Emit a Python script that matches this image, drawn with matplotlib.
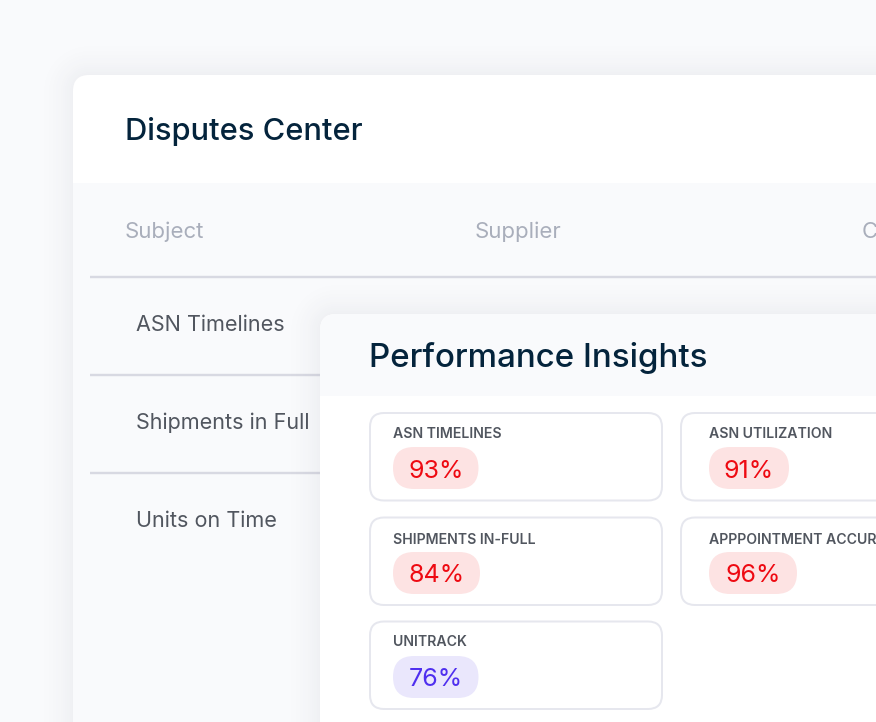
import matplotlib
matplotlib.use("Agg")
import numpy as np
import matplotlib.pyplot as plt
from matplotlib.patches import FancyBboxPatch, Rectangle

FONT = ["Inter", "Open Sans", "DejaVu Sans"]
plt.rcParams["font.family"] = FONT

W, H = 876, 722
PT = 72 / 100

# ---- content ----
main_title = "Disputes Center"
panel_title = "Performance Insights"
table_headers = ["Subject", "Supplier", "C"]
table_rows = ["ASN Timelines", "Shipments in Full", "Units on Time"]
metric_names = ["ASN TIMELINES", "ASN UTILIZATION", "SHIPMENTS IN-FULL",
                "APPPOINTMENT ACCURACY", "UNITRACK"]
metric_values = [93, 91, 84, 96, 76]
metric_kinds = ["bad", "bad", "bad", "bad", "info"]

# ---- styles ----
BG = "#F9FAFC"
INK = "#04243C"
GREY = "#A9AEBB"
TXT = "#51565F"
LINE = "#D8D9E2"
STROKE = "#E6E7EE"
PILL = {"bad": ("#FDE3E3", "#EE0A12"), "info": ("#EAE7FC", "#4F2FEF")}

fig = plt.figure(figsize=(W / 100, H / 100), dpi=100, facecolor=BG)
ax = fig.add_axes([0, 0, 1, 1])
ax.set_xlim(0, W)
ax.set_ylim(H, 0)
ax.axis("off")


def rrect(x0, y0, x1, y1, r, fc="none", ec="none", lw=0, z=1, alpha=None):
    p = FancyBboxPatch((x0 + r, y0 + r), x1 - x0 - 2 * r, y1 - y0 - 2 * r,
                       boxstyle=f"round,pad={r},rounding_size={r}",
                       fc=fc, ec=ec, lw=lw * PT, zorder=z, alpha=alpha,
                       mutation_aspect=1)
    ax.add_patch(p)
    return p


def shadow(x0, y0, x1, y1, r, z, spread=42, peak=0.05, dy=0):
    # one soft halo composited once, so faint tones survive 8-bit rounding
    yy, xx = np.mgrid[0:H, 0:W] + 0.5
    qx = np.maximum(np.maximum(x0 + r - xx, xx - (x1 - r)), 0)
    qy = np.maximum(np.maximum(y0 + dy + r - yy, yy - (y1 - r)), 0)
    dist = np.maximum(np.hypot(qx, qy) - r, 0)
    fall = np.clip(1 - dist / spread, 0, 1) ** 2.2
    img = np.zeros((H, W, 4))
    img[..., :3] = np.array([0x30, 0x34, 0x4A]) / 255
    img[..., 3] = peak * fall
    ax.imshow(img, extent=(0, W, H, 0), zorder=z, interpolation="nearest", aspect="auto")
    ax.set_xlim(0, W)
    ax.set_ylim(H, 0)


def label(x, y, s, size, color, weight="normal", z=10, ha="left"):
    ax.text(x, y, s, fontsize=size * PT, color=color, fontweight=weight,
            va="center_baseline", ha=ha, zorder=z)


# Outer card
CX0, CY0, CX1, CY1 = 73, 75, 960, 820
shadow(CX0, CY0, CX1, CY1, 16, 1)
rrect(CX0, CY0, CX1, CY1, 16, fc="#FFFFFF", z=2)
ax.add_patch(Rectangle((CX0, 183), CX1 - CX0, CY1 - 183, fc=BG, ec="none", zorder=3))
label(125, 129, main_title, 30.8, INK, "medium", z=4)

for x, s in zip([125, 475, 862], table_headers):
    label(x, 230, s, 22.2, GREY, z=4)
for y in [276.5, 374.5, 472.5]:
    ax.plot([90, W], [y, y], color=LINE, lw=2.4 * PT, zorder=3, solid_capstyle="butt")
for y, s in zip([323, 421, 519], table_rows):
    label(136.5, y, s, 21.6, TXT, z=4)

# Inner panel
PX0, PY0, PX1, PY1 = 320, 314, 960, 860
shadow(PX0, PY0, PX1, PY1, 16, 5)
rrect(PX0, PY0, PX1, PY1, 16, fc="#FFFFFF", z=6)
hdr = rrect(PX0, PY0, PX1, PY1, 16, fc=BG, z=7)
clip = Rectangle((PX0, PY0), PX1 - PX0, 82, transform=ax.transData)
hdr.set_clip_path(clip)
label(369, 354, panel_title, 33.1, INK, "medium", z=8)

# Metric tiles
tile_x = [(370, 662), (681, 974), (370, 662), (681, 974), (370, 662)]
tile_y = [(413, 500.5), (413, 500.5), (517.5, 605), (517.5, 605), (621.5, 709)]
name_y = [433, 433, 539, 539, 641]
pill_y = [(447, 489), (447, 489), (552, 594), (552, 594), (656, 698)]
pill_x = [(393, 478.5), (709, 789), (393, 480), (709, 797), (393, 478.5)]

for name, val, kind, tx, ty, ny, py, px in zip(metric_names, metric_values, metric_kinds,
                                              tile_x, tile_y, name_y, pill_y, pill_x):
    rrect(tx[0], ty[0], tx[1], ty[1], 14, fc="#FFFFFF", ec=STROKE, lw=2, z=8)
    label(px[0], ny, name, 14.1, TXT, "semibold", z=9)
    fc, tc = PILL[kind]
    rrect(px[0], py[0], px[1], py[1], 21, fc=fc, z=9)
    ax.text((px[0] + px[1]) / 2, (py[0] + py[1]) / 2 + 0.5, f"{val}%", fontsize=25 * PT, color=tc,
            ha="center", va="center_baseline", zorder=10)

fig.savefig("out.png", dpi=100, facecolor=BG)
